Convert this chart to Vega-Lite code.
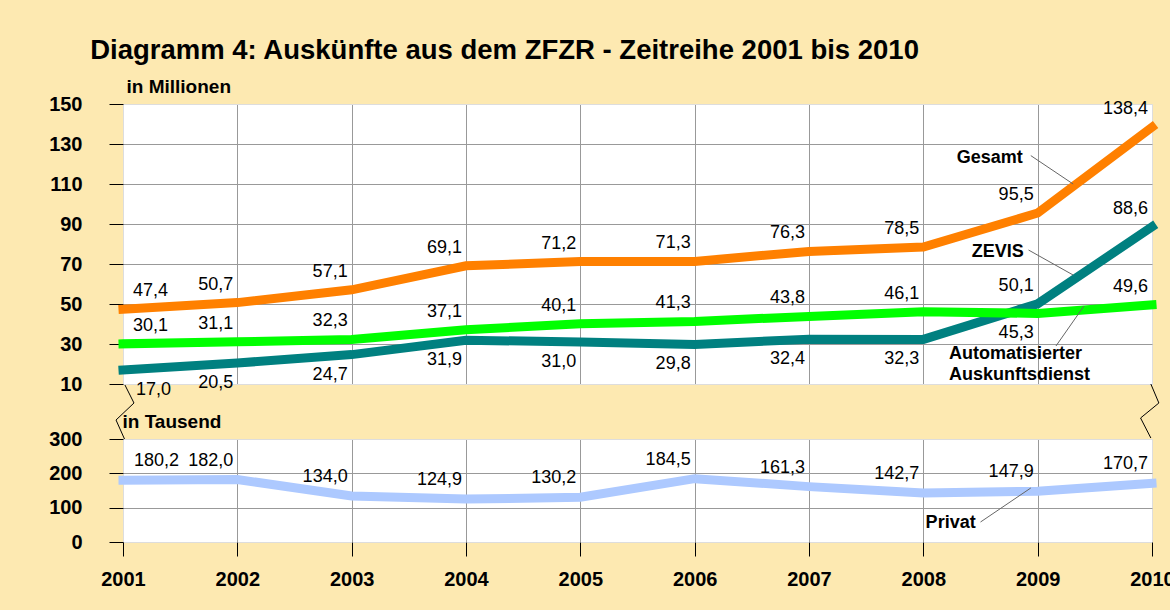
{
  "$schema": "https://vega.github.io/schema/vega-lite/v6.json",
  "background": "#FDE9B1",
  "padding": {"left": 48, "top": 37, "right": 0, "bottom": 20},
  "title": {"text": "Diagramm 4: Auskünfte aus dem ZFZR - Zeitreihe 2001 bis 2010", "anchor": "start", "frame": "bounds", "dx": 42, "fontSize": 27.5, "font": "Liberation Sans", "fontWeight": "bold", "color": "black", "offset": 12},
  "datasets": {
    "upper": [
      {"year": 2001, "series": "Gesamt", "value": 47.4}, {"year": 2002, "series": "Gesamt", "value": 50.7}, {"year": 2003, "series": "Gesamt", "value": 57.1}, {"year": 2004, "series": "Gesamt", "value": 69.1}, {"year": 2005, "series": "Gesamt", "value": 71.2}, {"year": 2006, "series": "Gesamt", "value": 71.3}, {"year": 2007, "series": "Gesamt", "value": 76.3}, {"year": 2008, "series": "Gesamt", "value": 78.5}, {"year": 2009, "series": "Gesamt", "value": 95.5}, {"year": 2010, "series": "Gesamt", "value": 138.4},
      {"year": 2001, "series": "Auto", "value": 30.1}, {"year": 2002, "series": "Auto", "value": 31.1}, {"year": 2003, "series": "Auto", "value": 32.3}, {"year": 2004, "series": "Auto", "value": 37.1}, {"year": 2005, "series": "Auto", "value": 40.1}, {"year": 2006, "series": "Auto", "value": 41.3}, {"year": 2007, "series": "Auto", "value": 43.8}, {"year": 2008, "series": "Auto", "value": 46.1}, {"year": 2009, "series": "Auto", "value": 45.3}, {"year": 2010, "series": "Auto", "value": 49.6},
      {"year": 2001, "series": "ZEVIS", "value": 17.0}, {"year": 2002, "series": "ZEVIS", "value": 20.5}, {"year": 2003, "series": "ZEVIS", "value": 24.7}, {"year": 2004, "series": "ZEVIS", "value": 31.9}, {"year": 2005, "series": "ZEVIS", "value": 31.0}, {"year": 2006, "series": "ZEVIS", "value": 29.8}, {"year": 2007, "series": "ZEVIS", "value": 32.4}, {"year": 2008, "series": "ZEVIS", "value": 32.3}, {"year": 2009, "series": "ZEVIS", "value": 50.1}, {"year": 2010, "series": "ZEVIS", "value": 88.6}
    ],
    "lower": [
      {"year": 2001, "value": 180.2}, {"year": 2002, "value": 182.0}, {"year": 2003, "value": 134.0}, {"year": 2004, "value": 124.9}, {"year": 2005, "value": 130.2}, {"year": 2006, "value": 184.5}, {"year": 2007, "value": 161.3}, {"year": 2008, "value": 142.7}, {"year": 2009, "value": 147.9}, {"year": 2010, "value": 170.7}
    ],
    "annotUpper": [
      {"x": 2008.58, "y": 123, "label": "Gesamt"},
      {"x": 2008.65, "y": 76, "label": "ZEVIS"}
    ],
    "annotAuto": [
      {"x": 2008.225, "y": 22.75, "label": "Automatisierter\nAuskunftsdienst"}
    ],
    "leadersUpper": [
      {"x": 2008.94, "y": 124.2, "x2": 2009.31, "y2": 110},
      {"x": 2008.92, "y": 77, "x2": 2009.31, "y2": 64.5},
      {"x": 2009.16, "y": 29, "x2": 2009.405, "y2": 49}
    ],
    "zigzag": [
      {"side": "left", "i": 1, "x": 2001.017, "y": 9.5}, {"side": "left", "i": 2, "x": 2001.096, "y": 0.5}, {"side": "left", "i": 3, "x": 2000.939, "y": -8}, {"side": "left", "i": 4, "x": 2001.017, "y": -18},
      {"side": "right", "i": 1, "x": 2009.99, "y": 10}, {"side": "right", "i": 2, "x": 2010.06, "y": 0.5}, {"side": "right", "i": 3, "x": 2009.9, "y": -7}, {"side": "right", "i": 4, "x": 2009.99, "y": -17}
    ],
    "annotLower": [
      {"x": 2008.02, "y": 55.3, "label": "Privat"}
    ],
    "leadersLower": [
      {"x": 2008.5, "y": 58.2, "x2": 2008.94, "y2": 157.3}
    ]
  },
  "spacing": 55,
  "bounds": "flush",
  "vconcat": [
    {
      "width": 1029,
      "height": 280,
      "layer": [
        {
          "data": {"name": "upper"},
          "transform": [{"filter": "datum.series == 'ZEVIS'"}],
          "mark": {"type": "line", "stroke": "#008080", "strokeWidth": 9, "strokeCap": "square"},
          "encoding": {
            "x": {"field": "year", "type": "quantitative", "scale": {"domain": [2001, 2010], "nice": false, "zero": false},
              "axis": {"values": [2001, 2002, 2003, 2004, 2005, 2006, 2007, 2008, 2009, 2010], "tickCount": 50, "grid": true, "gridColor": {"condition": {"test": "datum.value == 2001 || datum.value == 2010", "value": "#dddddd"}, "value": "#999999"}, "labels": false, "ticks": false, "domain": false, "title": null}},
            "y": {"field": "value", "type": "quantitative", "scale": {"domain": [10, 150], "nice": false, "zero": false},
              "axis": {"values": [10, 30, 50, 70, 90, 110, 130, 150], "tickCount": 50, "labelOverlap": false, "labelFlush": false, "labelBound": false, "grid": true, "gridColor": {"condition": {"test": "datum.value == 10 || datum.value == 150", "value": "#dddddd"}, "value": "#999999"}, "domain": false, "tickColor": "black", "tickSize": 14, "labelFont": "Liberation Sans", "labelFontSize": 20, "labelFontWeight": "bold", "labelColor": "black", "labelPadding": 27, "title": "in Millionen", "titleAngle": 0, "titleAlign": "left", "titleBaseline": "alphabetic", "titleX": 3, "titleY": -12, "titleFont": "Liberation Sans", "titleFontSize": 19, "titleFontWeight": "bold", "titleColor": "black"}}
          }
        },
        {
          "data": {"name": "upper"},
          "transform": [{"filter": "datum.series == 'Auto'"}],
          "mark": {"type": "line", "stroke": "#00FF00", "strokeWidth": 9, "strokeCap": "square"},
          "encoding": {"x": {"field": "year", "type": "quantitative"}, "y": {"field": "value", "type": "quantitative"}}
        },
        {
          "data": {"name": "upper"},
          "transform": [{"filter": "datum.series == 'Gesamt'"}],
          "mark": {"type": "line", "stroke": "#FF8000", "strokeWidth": 9, "strokeCap": "square"},
          "encoding": {"x": {"field": "year", "type": "quantitative"}, "y": {"field": "value", "type": "quantitative"}}
        },
        {
          "data": {"name": "upper"},
          "transform": [{"filter": "datum.year == 2001 && datum.series != 'ZEVIS'"}],
          "mark": {"type": "text", "align": "left", "baseline": "alphabetic", "dx": 10, "dy": -13, "font": "Liberation Sans", "fontSize": 18, "color": "black"},
          "encoding": {"x": {"field": "year", "type": "quantitative"}, "y": {"field": "value", "type": "quantitative"}, "text": {"field": "value", "type": "quantitative", "format": ".1f"}}
        },
        {
          "data": {"name": "upper"},
          "transform": [{"filter": "datum.year > 2001 && (datum.series == 'Gesamt' || (datum.series == 'Auto' && datum.year != 2009) || (datum.series == 'ZEVIS' && datum.year >= 2009))"}],
          "mark": {"type": "text", "align": "right", "baseline": "alphabetic", "dx": -4, "dy": -13, "font": "Liberation Sans", "fontSize": 18, "color": "black"},
          "encoding": {"x": {"field": "year", "type": "quantitative"}, "y": {"field": "value", "type": "quantitative"}, "text": {"field": "value", "type": "quantitative", "format": ".1f"}}
        },
        {
          "data": {"name": "upper"},
          "transform": [{"filter": "datum.year == 2001 && datum.series == 'ZEVIS'"}],
          "mark": {"type": "text", "align": "left", "baseline": "alphabetic", "dx": 13, "dy": 25, "font": "Liberation Sans", "fontSize": 18, "color": "black"},
          "encoding": {"x": {"field": "year", "type": "quantitative"}, "y": {"field": "value", "type": "quantitative"}, "text": {"field": "value", "type": "quantitative", "format": ".1f"}}
        },
        {
          "data": {"name": "upper"},
          "transform": [{"filter": "datum.year > 2001 && ((datum.series == 'ZEVIS' && datum.year < 2009) || (datum.series == 'Auto' && datum.year == 2009))"}],
          "mark": {"type": "text", "align": "right", "baseline": "alphabetic", "dx": -4, "dy": 25, "font": "Liberation Sans", "fontSize": 18, "color": "black"},
          "encoding": {"x": {"field": "year", "type": "quantitative"}, "y": {"field": "value", "type": "quantitative"}, "text": {"field": "value", "type": "quantitative", "format": ".1f"}}
        },
        {
          "data": {"name": "annotUpper"},
          "mark": {"type": "text", "align": "center", "baseline": "middle", "font": "Liberation Sans", "fontSize": 18, "fontWeight": "bold", "color": "black"},
          "encoding": {"x": {"field": "x", "type": "quantitative"}, "y": {"field": "y", "type": "quantitative"}, "text": {"field": "label", "type": "nominal"}}
        },
        {
          "data": {"name": "annotAuto"},
          "mark": {"type": "text", "align": "left", "baseline": "alphabetic", "lineBreak": "\n", "lineHeight": 21, "font": "Liberation Sans", "fontSize": 18, "fontWeight": "bold", "color": "black"},
          "encoding": {"x": {"field": "x", "type": "quantitative"}, "y": {"field": "y", "type": "quantitative"}, "text": {"field": "label", "type": "nominal"}}
        },
        {
          "data": {"name": "leadersUpper"},
          "mark": {"type": "rule", "color": "#666666", "strokeWidth": 1},
          "encoding": {"x": {"field": "x", "type": "quantitative"}, "y": {"field": "y", "type": "quantitative"}, "x2": {"field": "x2"}, "y2": {"field": "y2"}}
        },
        {
          "data": {"name": "zigzag"},
          "mark": {"type": "line", "color": "black", "strokeWidth": 1},
          "encoding": {"x": {"field": "x", "type": "quantitative"}, "y": {"field": "y", "type": "quantitative"}, "detail": {"field": "side"}, "order": {"field": "i"}}
        }
      ]
    },
    {
      "width": 1029,
      "height": 103,
      "layer": [
        {
          "data": {"name": "lower"},
          "mark": {"type": "line", "stroke": "#ADC9FF", "strokeWidth": 9, "strokeCap": "square"},
          "encoding": {
            "x": {"field": "year", "type": "quantitative", "scale": {"domain": [2001, 2010], "nice": false, "zero": false},
              "axis": {"values": [2001, 2002, 2003, 2004, 2005, 2006, 2007, 2008, 2009, 2010], "tickCount": 50, "format": "d", "labelOverlap": false, "labelFlush": false, "labelBound": false, "grid": true, "gridColor": {"condition": {"test": "datum.value == 2001 || datum.value == 2010", "value": "#dddddd"}, "value": "#999999"}, "domain": false, "tickColor": "black", "tickSize": 14, "labelFont": "Liberation Sans", "labelFontSize": 20, "labelFontWeight": "bold", "labelColor": "black", "labelPadding": 13, "title": null}},
            "y": {"field": "value", "type": "quantitative", "scale": {"domain": [0, 300], "nice": false},
              "axis": {"values": [0, 100, 200, 300], "tickCount": 50, "labelOverlap": false, "labelFlush": false, "labelBound": false, "grid": true, "gridColor": {"condition": {"test": "datum.value == 0 || datum.value == 300", "value": "#dddddd"}, "value": "#999999"}, "domain": false, "tickColor": "black", "tickSize": 14, "labelFont": "Liberation Sans", "labelFontSize": 20, "labelFontWeight": "bold", "labelColor": "black", "labelPadding": 27, "title": "in Tausend", "titleAngle": 0, "titleAlign": "left", "titleBaseline": "alphabetic", "titleX": -1, "titleY": -12, "titleFont": "Liberation Sans", "titleFontSize": 19, "titleFontWeight": "bold", "titleColor": "black"}}
          }
        },
        {
          "data": {"name": "lower"},
          "transform": [{"filter": "datum.year == 2001"}],
          "mark": {"type": "text", "align": "left", "baseline": "alphabetic", "dx": 11, "dy": -14, "font": "Liberation Sans", "fontSize": 18, "color": "black"},
          "encoding": {"x": {"field": "year", "type": "quantitative"}, "y": {"field": "value", "type": "quantitative"}, "text": {"field": "value", "type": "quantitative", "format": ".1f"}}
        },
        {
          "data": {"name": "lower"},
          "transform": [{"filter": "datum.year > 2001"}],
          "mark": {"type": "text", "align": "right", "baseline": "alphabetic", "dx": -4, "dy": -14, "font": "Liberation Sans", "fontSize": 18, "color": "black"},
          "encoding": {"x": {"field": "year", "type": "quantitative"}, "y": {"field": "value", "type": "quantitative"}, "text": {"field": "value", "type": "quantitative", "format": ".1f"}}
        },
        {
          "data": {"name": "annotLower"},
          "mark": {"type": "text", "align": "left", "baseline": "middle", "font": "Liberation Sans", "fontSize": 18, "fontWeight": "bold", "color": "black"},
          "encoding": {"x": {"field": "x", "type": "quantitative"}, "y": {"field": "y", "type": "quantitative"}, "text": {"field": "label", "type": "nominal"}}
        },
        {
          "data": {"name": "leadersLower"},
          "mark": {"type": "rule", "color": "#666666", "strokeWidth": 1},
          "encoding": {"x": {"field": "x", "type": "quantitative"}, "y": {"field": "y", "type": "quantitative"}, "x2": {"field": "x2"}, "y2": {"field": "y2"}}
        }
      ]
    }
  ],
  "config": {
    "locale": {"number": {"decimal": ",", "thousands": ".", "grouping": [3], "currency": ["", " €"]}},
    "view": {"fill": "white", "stroke": "#dddddd", "strokeWidth": 1},
    "font": "Liberation Sans"
  }
}
